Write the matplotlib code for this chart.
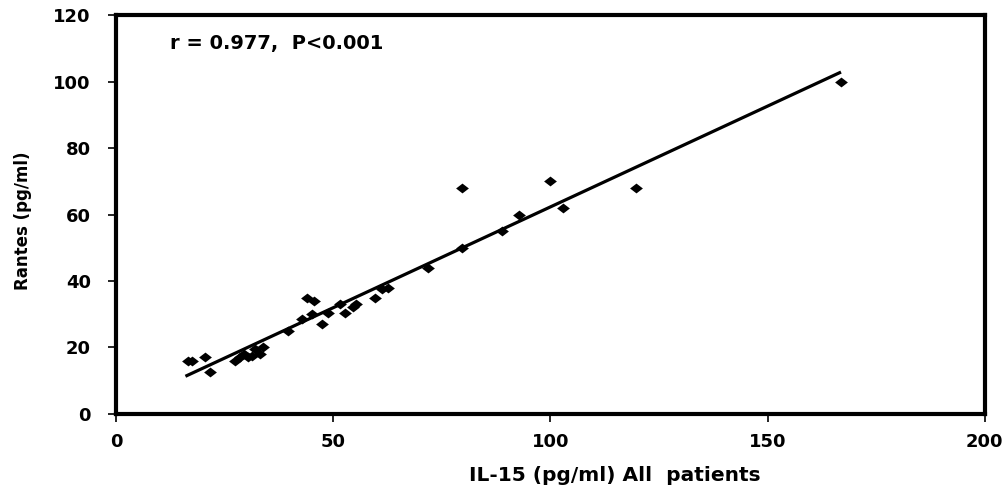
import numpy as np
import matplotlib
matplotlib.use("Agg")
import matplotlib.pyplot as plt
from matplotlib.path import Path

# IL-15 (pg/ml) and Rantes (pg/ml) values
il15 = [16.5, 17.5, 20.5, 21.6, 27.4, 28.5, 29.5, 30.3, 31.3, 32.0, 33.1, 33.8,
        39.7, 42.8, 43.9, 45.2, 45.5, 47.5, 48.8, 51.5, 52.7, 54.5, 55.2,
        59.7, 61.3, 62.7, 71.8, 79.6, 79.6, 88.8, 92.8, 99.9, 102.9, 119.7, 166.9]
rantes = [16.0, 16.0, 17.0, 12.7, 16.0, 17.0, 18.0, 17.0, 17.5, 19.5, 18.0, 20.0,
          25.0, 28.5, 35.0, 30.2, 34.0, 27.0, 30.3, 33.0, 30.3, 32.3, 33.0,
          35.0, 37.5, 38.0, 44.0, 68.0, 50.0, 55.0, 60.0, 70.0, 62.0, 68.0, 100.0]

annotation = "r = 0.977,  P<0.001"
xticks = [0, 50, 100, 150, 200]
yticks = [0, 20, 40, 60, 80, 100, 120]

FONT = ['DejaVu Sans']

fig = plt.figure(figsize=(10.08, 4.91), dpi=100)
ax = fig.add_axes([0.115, 0.157, 0.862, 0.812])

# slightly wide diamond marker
diamond = Path([(-1.3, 0), (0, 1), (1.3, 0), (0, -1), (-1.3, 0)],
               [Path.MOVETO, Path.LINETO, Path.LINETO, Path.LINETO, Path.CLOSEPOLY])
ax.scatter(il15, rantes, marker=diamond, s=85, color='black', zorder=3, linewidths=0)

slope, intercept = np.polyfit(il15, rantes, 1)
xl = np.array([min(il15) - 0.5, max(il15)])
ax.plot(xl, slope * xl + intercept, color='black', linewidth=2.3, zorder=2,
        solid_capstyle='butt')

ax.set_xlim(0, 200)
ax.set_ylim(0, 120)
ax.set_xticks(xticks)
ax.set_yticks(yticks)

for s in ax.spines.values():
    s.set_linewidth(3)

ax.tick_params(axis='both', direction='out', length=6, width=1.2, color='black')
ax.tick_params(axis='x', pad=8)
ax.tick_params(axis='y', pad=12)

for lbl in ax.get_xticklabels():
    lbl.set_fontfamily(FONT)
    lbl.set_fontweight('bold')
    lbl.set_fontsize(13)
for lbl in ax.get_yticklabels():
    lbl.set_fontfamily(FONT)
    lbl.set_fontweight('bold')
    lbl.set_fontsize(13)

ax.set_xlabel("IL-15 (pg/ml) All  patients", fontsize=14.5, fontweight='bold',
              family=FONT)
ax.xaxis.set_label_coords(0.574, -0.130)
ax.set_ylabel("Rantes (pg/ml)", fontsize=12, fontweight='bold', family=FONT)
ax.yaxis.set_label_coords(-0.097, 0.484)

ax.text(0.062, 0.928, annotation, transform=ax.transAxes, fontsize=14,
        fontweight='bold', family=FONT, ha='left', va='center')

fig.savefig("out.png", dpi=100)
